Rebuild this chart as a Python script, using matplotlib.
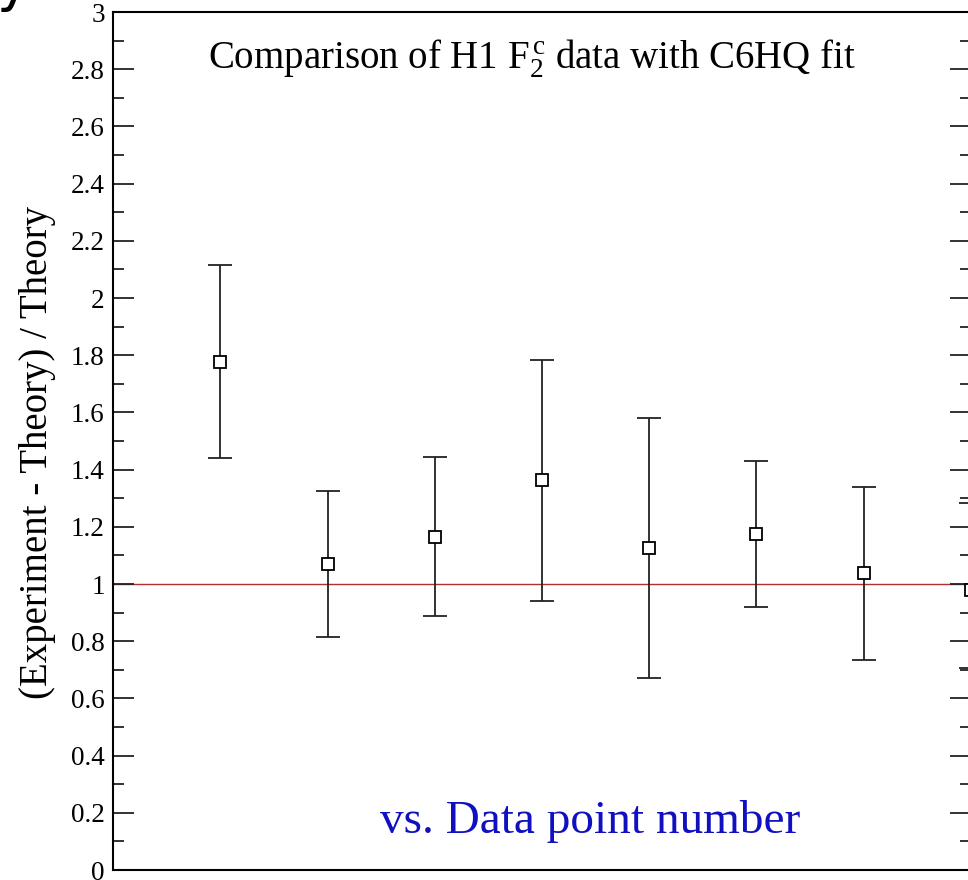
import matplotlib
matplotlib.use("Agg")
import matplotlib.pyplot as plt
from matplotlib.ticker import MultipleLocator, FormatStrFormatter

# data
point_no = [1, 2, 3, 4, 5, 6, 7, 8]
ratio = [1.776, 1.070, 1.164, 1.364, 1.126, 1.175, 1.038, 0.98]
err_hi = [2.115, 1.325, 1.444, 1.783, 1.580, 1.430, 1.339, 1.283]
err_lo = [1.441, 0.815, 0.888, 0.941, 0.671, 0.920, 0.734, 0.706]

yerr = [[r - lo for r, lo in zip(ratio, err_lo)],
        [hi - r for r, hi in zip(ratio, err_hi)]]

plt.rcParams['font.family'] = ['Liberation Serif', 'DejaVu Serif']
plt.rcParams['mathtext.fontset'] = 'custom'
plt.rcParams['mathtext.rm'] = 'Liberation Serif'
plt.rcParams['mathtext.it'] = 'Liberation Serif:italic'

fig = plt.figure(figsize=(9.68, 8.8), dpi=100)
ax = fig.add_axes([113 / 968, 10 / 880, 858 / 968, 858 / 880])

ax.axhline(1.0, color='#b03030', lw=1.0, zorder=1)
ax.errorbar(point_no, ratio, yerr=yerr, fmt='s', mfc='white', mec='black',
            mew=1.3, ms=8.5, ecolor='#222222', elinewidth=1.3, capsize=8.5,
            capthick=1.3, clip_on=False, zorder=3)

ax.set_xlim(0, 8)
ax.set_ylim(0, 3)
ax.yaxis.set_major_locator(MultipleLocator(0.2))
ax.yaxis.set_minor_locator(MultipleLocator(0.1))
ax.yaxis.set_major_formatter(FormatStrFormatter('%g'))
ax.tick_params(axis='y', which='both', direction='in', left=True, right=True,
               labelsize=19.5, width=1.3, colors='#222222', labelcolor='black', pad=6)
ax.tick_params(axis='y', which='major', length=15)
ax.tick_params(axis='y', which='minor', length=8)
ax.tick_params(axis='x', which='both', bottom=False, top=False, labelbottom=False)
for s in ax.spines.values():
    s.set_linewidth(1.5)

ax.set_ylabel('(Experiment - Theory) / Theory', fontsize=28)
ax.yaxis.set_label_coords(-0.066, 0.487)

ax.text(0.488, 0.945, r'Comparison of H1 F$_{2}^{\,\mathregular{c}}$ data with C6HQ fit',
        transform=ax.transAxes, ha='center', va='center', fontsize=28)
ax.text(0.311, 0.056, 'vs. Data point number', transform=ax.transAxes,
        ha='left', va='center', fontsize=34, color='#1010c0')

fig.text(-0.004, 1.0, 'y', fontsize=40, family='DejaVu Sans', ha='left', va='baseline')

fig.savefig('out.png', dpi=100)
